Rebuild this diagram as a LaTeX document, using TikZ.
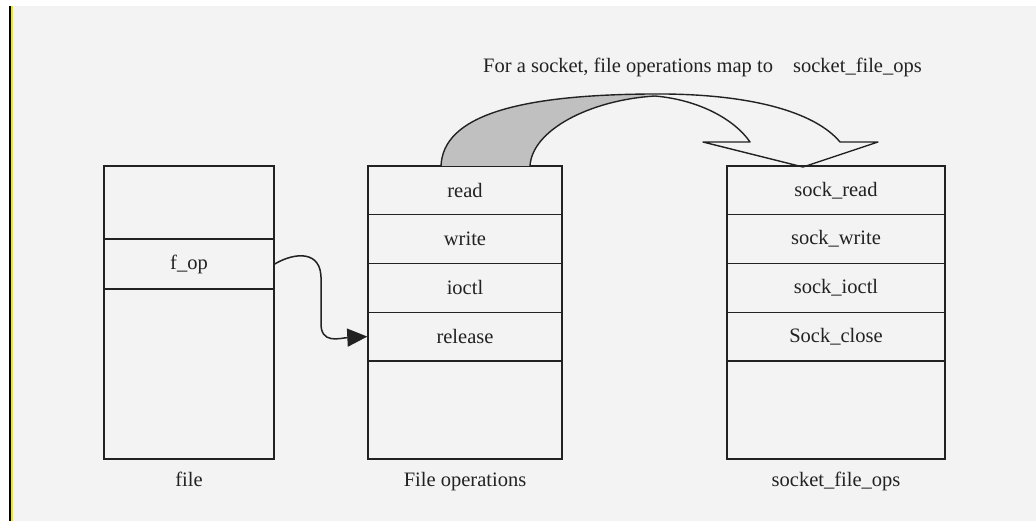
\documentclass[tikz,border=0pt]{standalone}
\usepackage{fontspec}
\setmainfont{Liberation Serif}
\usetikzlibrary{arrows.meta}
\definecolor{bg}{HTML}{F3F3F3}
\definecolor{ink}{HTML}{222222}
\definecolor{band}{HTML}{C0C0C0}
\definecolor{edgeyellow}{HTML}{F2EA00}
\tikzset{
  cell/.style={draw=ink, line width=1.4pt, minimum height=#1, inner sep=0pt,
    font=\fontsize{20.5}{24}\selectfont, text=ink},
  filecell/.style={cell=#1, minimum width=170pt},
  opscell/.style={cell=#1, minimum width=194pt},
  sockcell/.style={cell=#1, minimum width=218pt},
  caption/.style={font=\fontsize{20.5}{24}\selectfont, text=ink, inner sep=0pt},
  conn/.style={draw=ink, line width=1.5pt, -{Triangle[length=20pt,width=18pt]}},
  ribbon/.style={draw=ink, line width=1.4pt, line join=round},
}
\begin{document}
\begin{tikzpicture}[x=1pt,y=-1pt]
\useasboundingbox (0,0) rectangle (1036,521);
% background and edge
\fill[white] (0,0) rectangle (1036,521);
\fill[bg] (13,6) rectangle (1036,521);
\fill[black] (9,6) rectangle (11,521);
\fill[edgeyellow] (11,6) rectangle (13,521);

% file structure
\node[filecell=73pt] (file1) at (189,202.5) {};
\node[filecell=50pt] (fop) at (189,264) {f\_op};
\node[filecell=170pt] (file3) at (189,374) {};
\node[caption, anchor=base] (filelbl) at (189,486) {file};

% file operations
\node[opscell=48.75pt] (read) at (465,190.4) {read};
\node[opscell=48.75pt] (write) at (465,239.1) {write};
\node[opscell=48.75pt] (ioctl) at (465,287.9) {ioctl};
\node[opscell=48.75pt] (release) at (465,336.6) {release};
\node[opscell=98pt] (opsrest) at (465,410) {};
\node[caption, anchor=base] (opslbl) at (465,486) {File operations};

% socket_file_ops
\node[sockcell=48.75pt] (sread) at (836,190.4) {sock\_read};
\node[sockcell=48.75pt] (swrite) at (836,239.1) {sock\_write};
\node[sockcell=48.75pt] (sioctl) at (836,287.9) {sock\_ioctl};
\node[sockcell=48.75pt] (sclose) at (836,336.6) {Sock\_close};
\node[sockcell=98pt] (srest) at (836,410) {};
\node[caption, anchor=base] (socklbl) at (836,486) {socket\_file\_ops};

% title
\node[caption, anchor=base west] (title) at (483,73)
  {For a socket, file operations map to\hspace{15pt} socket\_file\_ops};

% f_op -> release connector
\draw[conn] (fop.east) .. controls (295,252) and (322,250) .. (321,280)
  -- (321,322) .. controls (320,345) and (340,338) .. (release.west);

% twisted ribbon arrow
\fill[band] (441,166) .. controls (443,115) and (520,95) .. (650,94)
  .. controls (620,95) and (650,95) .. (655,96)
  .. controls (590,100) and (532,130) .. (530,166) -- cycle;
\draw[ribbon] (441,166) .. controls (443,115) and (520,95) .. (650,94)
  .. controls (750,93) and (815,112) .. (840,142) -- (878,142)
  -- (803,167) -- (703,142) -- (750,142)
  .. controls (735,120) and (700,100) .. (655,96)
  .. controls (590,100) and (532,130) .. (530,166);
\end{tikzpicture}
\end{document}
